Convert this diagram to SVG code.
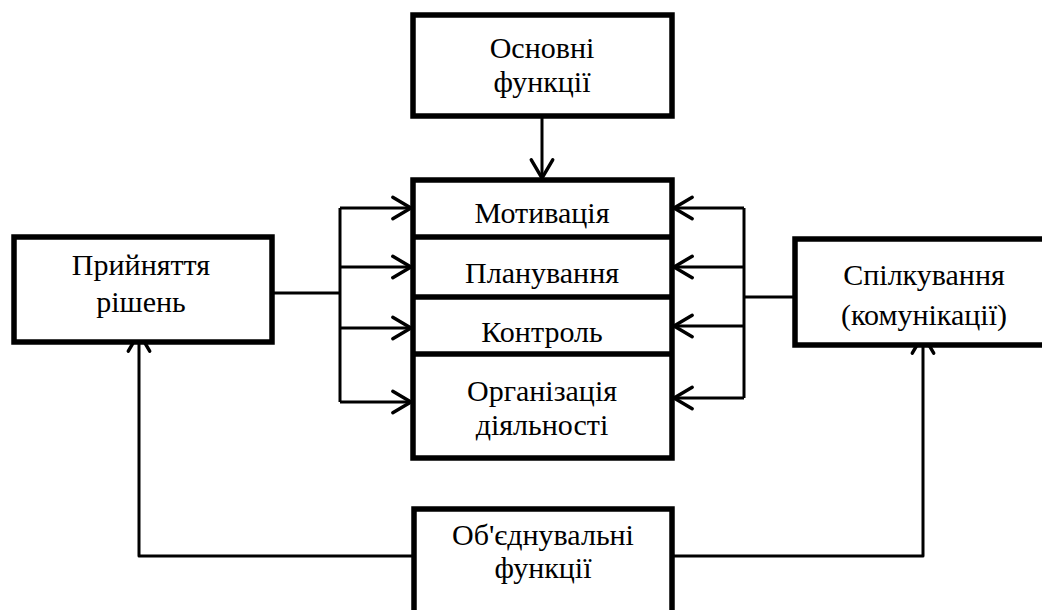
<svg xmlns="http://www.w3.org/2000/svg" width="1042" height="610" viewBox="0 0 1042 610">
<style>
.box{fill:#fff;stroke:#000;stroke-width:5.5}
.div{stroke:#000;stroke-width:5.5}
.t{font-family:"Liberation Serif","Times New Roman",serif;font-size:30px;fill:#000;text-anchor:middle}
.c{fill:none;stroke:#000;stroke-width:3;stroke-linejoin:round}
</style>
<defs>
<marker id="arr" markerUnits="userSpaceOnUse" markerWidth="30" markerHeight="30" refX="0" refY="0" viewBox="-22 -14 26 28" orient="auto" overflow="visible">
<path d="M -17 -10 L 0 0 L -17 10" fill="none" stroke="#000" stroke-width="3.2" stroke-linecap="round" stroke-linejoin="miter"/>
</marker>
</defs>
<rect width="1042" height="610" fill="#fff"/>
<g id="connectors">
<path class="c" d="M542 117 V178" marker-end="url(#arr)"/>
<path class="c" d="M272 293 H340"/>
<path class="c" d="M340 208 V402"/>
<path class="c" d="M340 208 H411" marker-end="url(#arr)"/>
<path class="c" d="M340 267 H411" marker-end="url(#arr)"/>
<path class="c" d="M340 328 H411" marker-end="url(#arr)"/>
<path class="c" d="M340 402 H411" marker-end="url(#arr)"/>
<path class="c" d="M795 297 H744"/>
<path class="c" d="M744 208 V398"/>
<path class="c" d="M744 208 H674" marker-end="url(#arr)"/>
<path class="c" d="M744 267 H674" marker-end="url(#arr)"/>
<path class="c" d="M744 326 H674" marker-end="url(#arr)"/>
<path class="c" d="M744 398 H674" marker-end="url(#arr)"/>
<path class="c" d="M414 556 H139 V333" marker-end="url(#arr)"/>
<path class="c" d="M672 556 H923 V335" marker-end="url(#arr)"/>
</g>
<g id="node-osnovni">
<rect class="box" x="413" y="15" width="259" height="101"/>
<text class="t" x="542" y="58">Основні</text>
<text class="t" x="542" y="92">функції</text>
</g>
<g id="node-center">
<rect class="box" x="413" y="180" width="259" height="278"/>
<line class="div" x1="413" y1="237" x2="672" y2="237"/>
<line class="div" x1="413" y1="297" x2="672" y2="297"/>
<line class="div" x1="413" y1="354" x2="672" y2="354"/>
<text class="t" x="542" y="223">Мотивація</text>
<text class="t" x="542" y="283">Планування</text>
<text class="t" x="542" y="342">Контроль</text>
<text class="t" x="542" y="401">Організація</text>
<text class="t" x="542" y="435">діяльності</text>
</g>
<g id="node-decisions">
<rect class="box" x="14" y="237" width="258" height="105"/>
<text class="t" x="141" y="275">Прийняття</text>
<text class="t" x="141" y="312">рішень</text>
</g>
<g id="node-communication">
<rect class="box" x="795" y="239" width="270" height="106"/>
<text class="t" x="924" y="285">Спілкування</text>
<text class="t" x="924" y="325">(комунікації)</text>
</g>
<g id="node-integrating">
<rect class="box" x="414" y="509" width="258" height="120"/>
<text class="t" x="543" y="545">Об'єднувальні</text>
<text class="t" x="543" y="578">функції</text>
</g>
</svg>
